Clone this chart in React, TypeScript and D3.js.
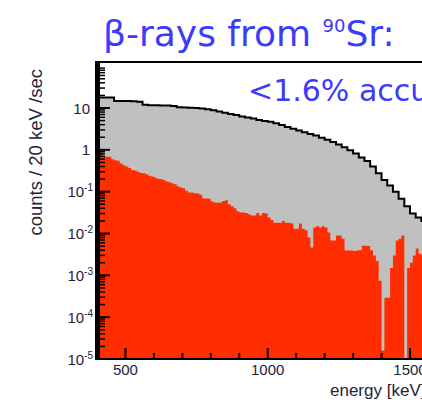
import React from "react";
import * as d3 from "d3";

// ---- data ----
const GRAY_START = 400;
const GRAY_BIN = 20; // keV
const grayCounts = [
  17.8, 17.8, 17.8, 14.8, 14.8, 14.8, 14.5, 14.1, 12.0, 11.7,
  11.7, 11.5, 11.5, 11.2, 10.5, 10.3, 10.2, 10.0, 9.8, 9.3,
  8.8, 8.2, 7.7, 7.2, 6.8, 6.3, 5.9, 5.6, 5.2, 4.9,
  4.7, 4.3, 3.9, 3.5, 3.2, 2.9, 2.65, 2.4, 2.2, 1.95,
  1.75, 1.55, 1.35, 1.15, 0.98, 0.82, 0.66, 0.54, 0.4, 0.275,
  0.19, 0.14, 0.1, 0.068, 0.045, 0.03, 0.024, 0.02, 0.018,
];

const RED_START = 400;
const RED_BIN = 10; // keV
const redCounts = [
  0.98, 0.95, 0.7, 0.68, 0.68, 0.6, 0.565, 0.55, 0.47, 0.43,
  0.4, 0.37, 0.33, 0.32, 0.3, 0.28, 0.275, 0.26, 0.24, 0.23,
  0.215, 0.205, 0.2, 0.19, 0.175, 0.167, 0.16, 0.15, 0.135, 0.125,
  0.12, 0.105, 0.096, 0.095, 0.092, 0.091, 0.085, 0.069, 0.069, 0.068,
  0.058, 0.055, 0.054, 0.055, 0.06, 0.062, 0.05, 0.045, 0.04, 0.034,
  0.032, 0.032, 0.031, 0.029, 0.027, 0.027, 0.031, 0.027, 0.031, 0.03,
  0.024, 0.021, 0.018, 0.018, 0.018, 0.02, 0.018, 0.018, 0.0174, 0.013,
  0.013, 0.0174, 0.013, 0.012, 0.008, 0.0046, 0.0139, 0.015, 0.0139, 0.015,
  0.0139, 0.0105, 0.0068, 0.0068, 0.0089, 0.0089, 0.0075, 0.0039, 0.0039, 0.0039,
  0.0038, 0.0039, 0.004, 0.0051, 0.0051, 0.005, 0.004, 0.003, 0.0022, 0.00074,
  0.000016, 0.00029, 0.00029, 0.0015, 0.003, 0.0068, 0.0075, 0.0089, 0, 0.0015,
  0.002, 0.003, 0.0044, 0.0033, 0.003, 0.003, 0.004,
];

const xMajorTicks = [500, 1000, 1500];
const xMinorTicks = [600, 700, 800, 900, 1100, 1200, 1300, 1400, 1600];
const yMajorExps = [1, 0, -1, -2, -3, -4, -5];

const TITLE_MAIN = "β-rays from ";
const TITLE_SUP = "90";
const TITLE_END = "Sr:";
const NOTE = "<1.6% accuracy";
const Y_TITLE = "counts / 20 keV /sec";
const X_TITLE = "energy [keV]";

// ---- layout ----
const W = 422;
const H = 400;
const TOP = 62;
const BOTTOM = 359;
const LEFT = 97;
const Y_MIN = 1e-5;
const Y_MAX = Math.pow(10, 2.1);

const x = d3.scaleLinear().domain([400, 1500]).range([LEFT, 410]);
const y = d3.scaleLog().domain([Y_MIN, Y_MAX]).range([BOTTOM, TOP]);

type Pt = [number, number];
function histPoints(start: number, bin: number, vals: number[]): Pt[] {
  const pts: Pt[] = vals.map((v, i) => [start + i * bin, v] as Pt);
  pts.push([start + vals.length * bin, vals[vals.length - 1]]);
  return pts;
}
const yc = (v: number) => y(Math.max(v, Y_MIN));

const area = d3
  .area<Pt>()
  .x((d) => x(d[0]))
  .y0(BOTTOM)
  .y1((d) => yc(d[1]))
  .curve(d3.curveStepAfter);
const line = d3
  .line<Pt>()
  .x((d) => x(d[0]))
  .y((d) => yc(d[1]))
  .curve(d3.curveStepAfter);

const grayPts = histPoints(GRAY_START, GRAY_BIN, grayCounts);
const redPts = histPoints(RED_START, RED_BIN, redCounts);

const yMinor: number[] = [];
for (let e = -5; e <= 2; e++) {
  for (let k = 2; k <= 9; k++) {
    const v = k * Math.pow(10, e);
    if (v > Y_MIN && v < Y_MAX) yMinor.push(v);
  }
}

const LABEL_FONT = "'Liberation Sans', Arial, Helvetica, sans-serif";
const BLUE = "#3b3bf8";
const LABEL_COLOR = "#23233a";

export default function App() {
  return (
    <svg
      width={W}
      height={H}
      viewBox={`0 0 ${W} ${H}`}
      style={{ position: "absolute", left: 0, top: 0, background: "#fff" }}
    >
      <defs>
        <clipPath id="frame">
          <rect x={LEFT} y={TOP} width={W - LEFT + 10} height={BOTTOM - TOP} />
        </clipPath>
      </defs>

      {/* title */}
      <text
        x={103}
        y={46}
        fill={BLUE}
        fontFamily="'DejaVu Sans', Verdana, sans-serif"
        fontSize={36}
      >
        <tspan>{TITLE_MAIN}</tspan>
        <tspan fontSize={18} dy={-14}>
          {TITLE_SUP}
        </tspan>
        <tspan dy={14}>{TITLE_END}</tspan>
      </text>

      {/* histograms */}
      <g clipPath="url(#frame)">
        <path d={area(grayPts) || ""} fill="#c0c0c0" />
        <path d={area(redPts) || ""} fill="#ff2d00" />
        <path d={line(grayPts) || ""} fill="none" stroke="#000" strokeWidth={2} />
      </g>

      {/* note */}
      <text
        x={248}
        y={101}
        fill={BLUE}
        fontFamily="'DejaVu Sans', Verdana, sans-serif"
        fontSize={30}
      >
        {NOTE}
      </text>

      {/* frame */}
      <line x1={LEFT - 1} x2={W + 5} y1={TOP} y2={TOP} stroke="#000" strokeWidth={2} />
      <line x1={LEFT - 1} x2={W + 5} y1={BOTTOM} y2={BOTTOM} stroke="#000" strokeWidth={2} />
      <rect x={LEFT - 2} y={TOP - 1} width={5} height={BOTTOM - TOP + 2} fill="#000" />

      {/* y ticks */}
      {yMinor.map((v, i) => (
        <line key={"ym" + i} x1={LEFT} x2={LEFT + 8} y1={y(v)} y2={y(v)} stroke="#000" strokeWidth={1.5} />
      ))}
      {yMajorExps.map((e) => (
        <line
          key={"yM" + e}
          x1={LEFT}
          x2={LEFT + 13}
          y1={y(Math.pow(10, e))}
          y2={y(Math.pow(10, e))}
          stroke="#000"
          strokeWidth={2}
        />
      ))}

      {/* x ticks */}
      {xMinorTicks.map((v) => (
        <line key={"xm" + v} x1={x(v)} x2={x(v)} y1={BOTTOM} y2={BOTTOM - 6} stroke="#000" strokeWidth={2} />
      ))}
      {xMajorTicks.map((v) => (
        <line key={"xM" + v} x1={x(v)} x2={x(v)} y1={BOTTOM} y2={BOTTOM - 11} stroke="#000" strokeWidth={2} />
      ))}

      {/* y labels */}
      {yMajorExps.map((e) => {
        const yy = y(Math.pow(10, e)) + 5.5;
        if (e === 1)
          return (
            <text key={"yl" + e} x={90} y={yy} textAnchor="end" fontFamily={LABEL_FONT} fontSize={15} fill={LABEL_COLOR}>
              10
            </text>
          );
        if (e === 0)
          return (
            <text key={"yl" + e} x={90} y={yy} textAnchor="end" fontFamily={LABEL_FONT} fontSize={15} fill={LABEL_COLOR}>
              1
            </text>
          );
        return (
          <text key={"yl" + e} x={93} y={yy} textAnchor="end" fontFamily={LABEL_FONT} fontSize={15} fill={LABEL_COLOR}>
            <tspan>10</tspan>
            <tspan fontSize={10} dy={-6}>
              {"-" + Math.abs(e)}
            </tspan>
          </text>
        );
      })}

      {/* x labels */}
      {xMajorTicks.map((v) => (
        <text key={"xl" + v} x={x(v)} y={375} textAnchor="middle" fontFamily={LABEL_FONT} fontSize={15} fill={LABEL_COLOR}>
          {v}
        </text>
      ))}

      {/* axis titles */}
      <text
        transform={`translate(42,69) rotate(-90)`}
        textAnchor="end"
        fontFamily={LABEL_FONT}
        fontSize={18.5}
        fill={LABEL_COLOR}
      >
        {Y_TITLE}
      </text>
      <text x={330} y={396} fontFamily={LABEL_FONT} fontSize={17} fill={LABEL_COLOR}>
        {X_TITLE}
      </text>
    </svg>
  );
}
